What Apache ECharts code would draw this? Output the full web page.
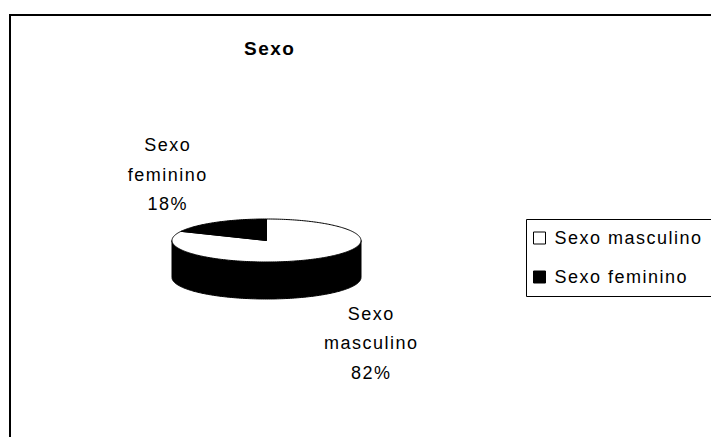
<!DOCTYPE html>
<html>
<head>
<meta charset="utf-8">
<style>
  html, body { margin: 0; padding: 0; background: #fff; }
  #chart { width: 711px; height: 437px; }
  #chart text { letter-spacing: 1.5px; }
</style>
<script src="https://cdn.jsdelivr.net/npm/echarts@6/dist/echarts.min.js"></script>
</head>
<body>
<div id="chart"></div>
<script>
// Respondents by sex (percent)
const categories = ['Sexo masculino', 'Sexo feminino'];
const shares = [82, 18];

const total = shares.reduce((a, b) => a + b, 0);
let running = 0;
const slices = categories.map((name, i) => {
  const start = running;
  running += shares[i];
  return { name: name, value: shares[i], start: start };
});

// Ellipse geometry of the tilted pie
const CX = 266.5, CY = 240.5, RX = 94.5, RY = 21.5, DEPTH = 37;
const FONT = '"Liberation Sans", Arial, sans-serif';

// angle measured clockwise from 12 o'clock
function rimPoint(t, dy) {
  return [CX + RX * Math.sin(t), CY - RY * Math.cos(t) + (dy || 0)];
}
function arc(a0, a1, dy) {
  const pts = [];
  const n = Math.max(2, Math.ceil((a1 - a0) / 0.02));
  for (let k = 0; k <= n; k++) pts.push(rimPoint(a0 + (a1 - a0) * k / n, dy));
  return pts;
}

function makeRender(topFill) {
  return function (params, api) {
    const value = api.value(0), start = api.value(1), sum = api.value(2);
    const a0 = start / sum * Math.PI * 2;
    const a1 = (start + value) / sum * Math.PI * 2;
    const children = [];

    // visible front wall: the part of the rim between 3 and 9 o'clock
    const s = Math.max(a0, Math.PI / 2), e = Math.min(a1, Math.PI * 1.5);
    if (e > s) {
      const upper = arc(s, e, 0);
      const lower = arc(s, e, DEPTH).reverse();
      children.push({
        type: 'polygon', z2: 1,
        shape: { points: upper.concat(lower) },
        style: { fill: '#000', stroke: '#000', lineWidth: 1 }
      });
    }

    // top face
    children.push({
      type: 'polygon', z2: 2,
      shape: { points: [[CX, CY]].concat(arc(a0, a1, 0)) },
      style: { fill: topFill, stroke: '#000', lineWidth: 1 }
    });

    // category label with percentage, placed outward from the slice middle
    const mid = (a0 + a1) / 2;
    const lx = CX + 3 + 190 * Math.sin(mid);
    let ly = CY - 78 * Math.cos(mid);
    if (Math.cos(mid) < 0) ly += DEPTH;
    const pct = Math.round(value / sum * 100);
    children.push({
      type: 'text', z2: 3,
      style: {
        x: lx, y: ly,
        text: api.value(3).toString().replace(' ', '\n') + '\n' + pct + '%',
        align: 'center', verticalAlign: 'middle',
        fontSize: 18, fontFamily: FONT, lineHeight: 29.5, fill: '#000'
      }
    });
    return { type: 'group', children: children };
  };
}

const topFills = ['#ffffff', '#000000'];

const chart = echarts.init(document.getElementById('chart'), null, { renderer: 'svg' });
chart.setOption({
  backgroundColor: '#fff',
  animation: false,
  title: {
    text: 'Sexo',
    left: 244, top: 39, padding: 0,
    textStyle: { fontSize: 19, fontWeight: 'bold', fontFamily: FONT, color: '#000' }
  },
  legend: {
    orient: 'vertical',
    left: 533, top: 228, padding: 0,
    itemWidth: 12, itemHeight: 12, itemGap: 19,
    icon: 'rect',
    textStyle: { fontSize: 18, fontFamily: FONT, color: '#000', lineHeight: 20, padding: [0, 0, 0, 4] },
    data: [
      { name: categories[0], itemStyle: { color: '#fff', borderColor: '#000', borderWidth: 1 } },
      { name: categories[1], itemStyle: { color: '#000', borderColor: '#000', borderWidth: 1 } }
    ]
  },
  graphic: [
    { type: 'rect', shape: { x: 10, y: 15, width: 800, height: 500 },
      style: { fill: 'none', stroke: '#000', lineWidth: 2 }, silent: true },
    { type: 'rect', shape: { x: 526.5, y: 219.5, width: 300, height: 77 },
      style: { fill: 'none', stroke: '#000', lineWidth: 1 }, silent: true }
  ],
  series: slices.map((sl, i) => ({
    type: 'custom',
    name: sl.name,
    coordinateSystem: 'none',
    itemStyle: { color: topFills[i], borderColor: '#000' },
    renderItem: makeRender(topFills[i]),
    data: [[sl.value, sl.start, total, sl.name]]
  }))
});
</script>
</body>
</html>
